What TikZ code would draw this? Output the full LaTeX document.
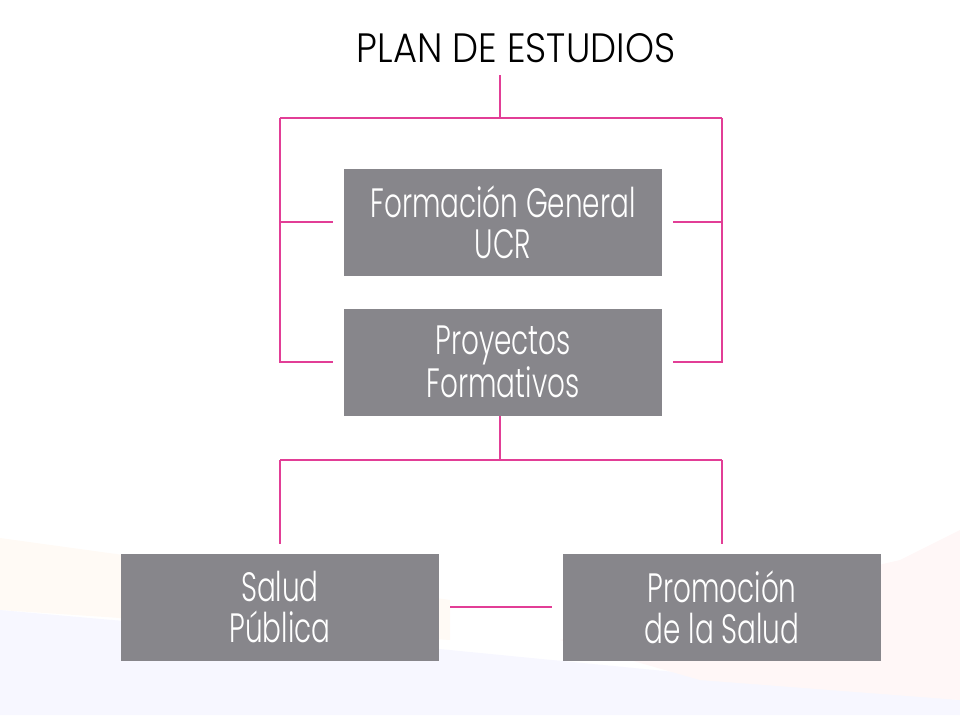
\documentclass[tikz,border=0pt]{standalone}
\usepackage{fontspec}
\setmainfont{Poppins}[UprightFont=* Light]
\newfontfamily\boxfont{Poppins}[UprightFont=* Light, FakeStretch=0.68]
\newfontfamily\titlefont{Poppins}[UprightFont=* Light, FakeStretch=0.9]
\usetikzlibrary{positioning, backgrounds}
\definecolor{boxgray}{RGB}{135,134,139}
\definecolor{linkpink}{RGB}{226,62,150}

\begin{document}
\begin{tikzpicture}[x=1pt, y=-1pt,
        box/.style={fill=boxgray, text=white, align=center,
            minimum width=318pt, minimum height=107pt, inner sep=0pt,
            font=\boxfont\fontsize{41}{41}\selectfont},
        link/.style={draw=linkpink, line width=1.6pt}]
    \useasboundingbox (0,0) rectangle (960,720);
    % faint backdrop
    \fill[orange!4] (0,538) -- (450,600) -- (450,640) -- (0,610) -- cycle;
    \fill[blue!3] (0,610) -- (450,650) -- (960,700) -- (960,715) -- (0,715) -- cycle;
    \fill[red!3] (560,640) -- (900,560) -- (960,530) -- (960,700) -- (700,680) -- cycle;

    \node[anchor=base, font=\titlefont\fontsize{41}{41}\selectfont] (title) at (516,62) {PLAN DE ESTUDIOS};
    \node[box] (fg) at (503,222) {Formación General\\UCR};
    \node[box] (pf) at (503,362) {Proyectos\\Formativos};
    \node[box] (sp) at (280,607) {Salud\\Pública};
    \node[box] (ps) at (722,607) {Promoción\\de la Salud};

    \begin{pgfonlayer}{background}
        \fill[white] ([shift={(-10pt,10pt)}]sp.north west) rectangle ([shift={(10pt,-12pt)}]sp.south east);
        \fill[white] ([shift={(-10pt,10pt)}]ps.north west) rectangle ([shift={(10pt,-12pt)}]ps.south east);
    \end{pgfonlayer}

    % upper bracket
    \coordinate (top) at (500,75);
    \coordinate (bar) at (500,118);
    \coordinate (barL) at (280,118);
    \coordinate (barR) at (722,118);
    \draw[link] (top) -- (bar);
    \draw[link] (barL) -- (barR);
    \draw[link] (barL) |- ([xshift=-11pt]pf.west);
    \draw[link] (barR) |- ([xshift=11pt]pf.east);
    \draw[link] (barL |- fg.west) -- ([xshift=-11pt]fg.west);
    \draw[link] (barR |- fg.east) -- ([xshift=11pt]fg.east);

    % lower bracket
    \coordinate (split) at (500,460);
    \coordinate (lowL) at (280,460);
    \coordinate (lowR) at (722,460);
    \draw[link] (split |- pf.south) -- (split);
    \draw[link] (lowL) -- (lowR);
    \draw[link] (lowL) -- ([yshift=9pt]sp.north);
    \draw[link] (lowR) -- ([yshift=9pt]ps.north);
    \draw[link] ([xshift=11pt]sp.east) -- ([xshift=-11pt]ps.west);
\end{tikzpicture}
\end{document}
